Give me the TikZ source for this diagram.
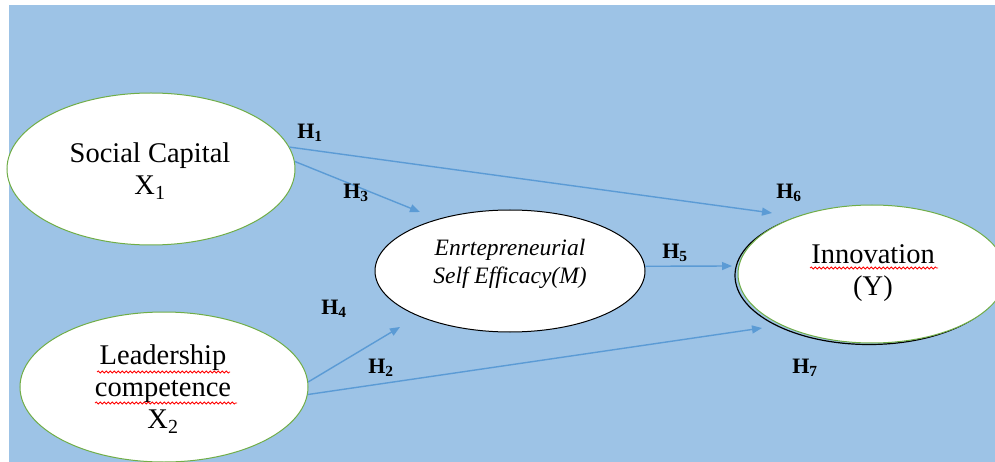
\documentclass[tikz,border=0pt]{standalone}
\usepackage{fontspec}
\setmainfont{Liberation Serif}
\usetikzlibrary{shapes.geometric,arrows.meta,decorations.pathmorphing}
\definecolor{bgblue}{HTML}{9DC3E6}
\definecolor{arrblue}{HTML}{5B9BD5}
\definecolor{elgreen}{HTML}{70AD47}
\tikzset{
  latent/.style={ellipse,draw=elgreen,line width=1pt,fill=white,inner sep=0pt},
  medbox/.style={ellipse,draw=black,line width=1pt,fill=white,inner sep=0pt},
  bigtext/.style={align=center,inner sep=0pt,font=\fontsize{28.5}{32}\selectfont},
  midtext/.style={align=center,inner sep=0pt,font=\fontsize{23.5}{28}\selectfont\itshape},
  hlabel/.style={inner sep=0pt,font=\fontsize{22}{24}\selectfont\bfseries},
  path arrow/.style={draw=arrblue,line width=1.4pt,-{Triangle[length=10pt,width=8pt]},arrblue},
  squiggle/.style={draw=red,line width=0.8pt,decorate,decoration={snake,segment length=4pt,amplitude=1pt}}
}
\begin{document}
\begin{tikzpicture}[x=1pt,y=-1pt]
\useasboundingbox (0,0) rectangle (995,462);
\clip (0,0) rectangle (995,462);
\fill[white] (0,0) rectangle (995,462);
\fill[bgblue] (9,5) rectangle (995,462);
% ellipses
\node[latent,minimum width=288pt,minimum height=152pt] (sc) at (151,169) {};
\node[latent,minimum width=288pt,minimum height=150pt] (lc) at (164,387) {};
\node[medbox,minimum width=270pt,minimum height=122pt] (ese) at (510,271) {};
\draw[black,line width=1.2pt] (869,275.5) ellipse [x radius=134pt,y radius=69pt];
\node[latent,minimum width=268pt,minimum height=138pt] (inn) at (872,274) {};
% texts
\node[bigtext] (sct) at (150,171) {Social Capital\\X\textsubscript{1}};
\node[bigtext] (lct) at (163,389) {Leadership\\competence\\X\textsubscript{2}};
\node[midtext] (eset) at (510,264) {Enrtepreneurial\\Self Efficacy(M)};
\node[bigtext] (innt) at (873,273) {Innovation\\(Y)};
% squiggles
\draw[squiggle] (97,372) -- (230,372);
\draw[squiggle] (95,403) -- (237,403);
\draw[squiggle] (810,268) -- (938,268);
% arrow ends
\coordinate (h1e) at (772,213);
\coordinate (h3e) at (420,212);
\coordinate (h5e) at (732,266);
\coordinate (h4e) at (400,327);
\coordinate (h2e) at (762,328);
% arrows
\draw[path arrow] (sc.9) -- (h1e);
\draw[path arrow] (sc.3) -- (h3e);
\draw[path arrow] (ese.2) -- (h5e);
\draw[path arrow] (lc.2) -- (h4e);
\draw[path arrow] (lc.-3) -- (h2e);
% labels
\node[hlabel] (H1) at (310,133) {H\textsubscript{1}};
\node[hlabel] (H3) at (356,193) {H\textsubscript{3}};
\node[hlabel] (H6) at (789,193) {H\textsubscript{6}};
\node[hlabel] (H5) at (675,253) {H\textsubscript{5}};
\node[hlabel] (H4) at (334,309) {H\textsubscript{4}};
\node[hlabel] (H2) at (381,368) {H\textsubscript{2}};
\node[hlabel] (H7) at (805,368) {H\textsubscript{7}};
\end{tikzpicture}
\end{document}
